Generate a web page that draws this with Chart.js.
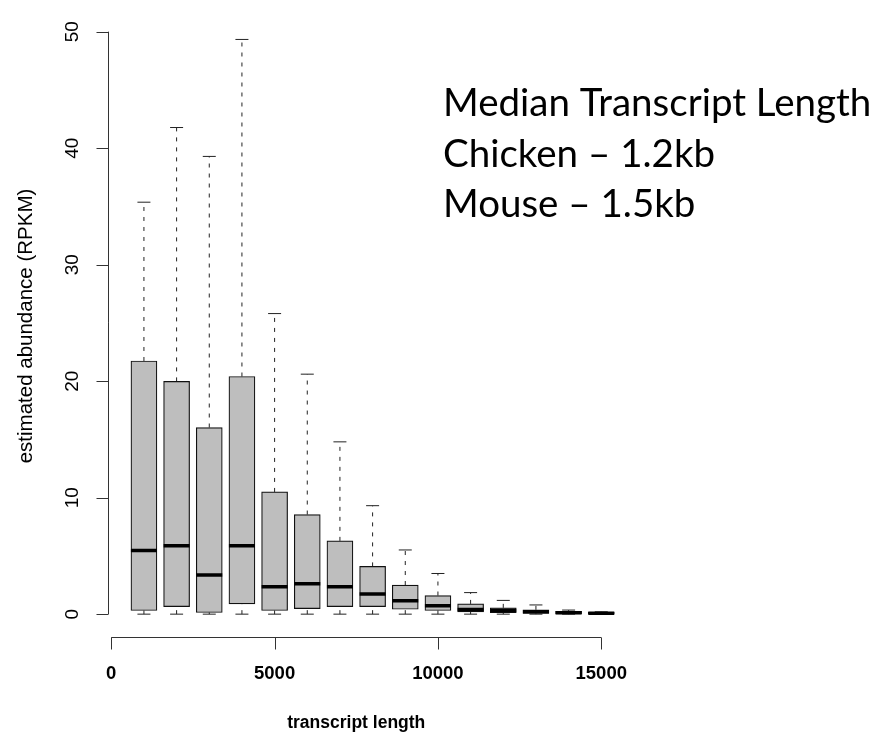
<!DOCTYPE html>
<html>
<head>
<meta charset="utf-8">
<script src="https://cdn.jsdelivr.net/npm/chart.js@4.4.1/dist/chart.umd.min.js"></script>
<style>
  html, body { margin: 0; padding: 0; background: #fff; }
  #chart { display: block; }
</style>
</head>
<body>
<canvas id="chart" width="886" height="734"></canvas>
<script>
// box positions (transcript length bins)
const lengths = [1000, 2000, 3000, 4000, 5000, 6000, 7000, 8000, 9000, 10000, 11000, 12000, 13000, 14000, 15000];
// box statistics, RPKM
const lowerWhisker = [0, 0, 0, 0, 0, 0, 0, 0, 0, 0, 0, 0, 0, 0, 0];
const q1 = [0.31, 0.65, 0.14, 0.88, 0.31, 0.48, 0.65, 0.65, 0.42, 0.31, 0.2, 0.12, 0.06, 0.03, 0.02];
const medians = [5.46, 5.88, 3.35, 5.88, 2.36, 2.61, 2.36, 1.72, 1.16, 0.73, 0.4, 0.31, 0.2, 0.12, 0.08];
const q3 = [21.73, 19.98, 16.02, 20.4, 10.49, 8.55, 6.29, 4.1, 2.5, 1.6, 0.88, 0.54, 0.37, 0.25, 0.15];
const upperWhisker = [35.36, 41.77, 39.29, 49.33, 25.8, 20.6, 14.79, 9.31, 5.51, 3.49, 1.85, 1.18, 0.79, 0.35, 0.2];

const xTicks = [0, 5000, 10000, 15000];
const yTicks = [0, 10, 20, 30, 40, 50];
const xTitle = 'transcript length';
const yTitle = 'estimated abundance (RPKM)';
const noteLines = ['Median Transcript Length', 'Chicken \u2013 1.2kb', 'Mouse \u2013 1.5kb'];

// whisker segments, split by gaps
var whiskerPts = [];
var capPts = [];
for (var i = 0; i < lengths.length; i++) {
  whiskerPts.push({ x: lengths[i], y: q3[i] }, { x: lengths[i], y: upperWhisker[i] }, { x: lengths[i], y: null });
  whiskerPts.push({ x: lengths[i], y: lowerWhisker[i] }, { x: lengths[i], y: q1[i] }, { x: lengths[i], y: null });
  capPts.push({ x: lengths[i], y: upperWhisker[i] }, { x: lengths[i], y: lowerWhisker[i] });
}

// R-style axes, titles and the note, drawn with the chart scales
const rAxes = {
  id: 'rAxes',
  afterDraw(chart) {
    const ctx = chart.ctx;
    const xs = chart.scales.x;
    const ys = chart.scales.y;
    const area = chart.chartArea;
    ctx.save();
    ctx.strokeStyle = '#333';
    ctx.lineWidth = 1;
    ctx.fillStyle = '#000';

    // y axis
    const ax = Math.round(area.left) + 0.5;
    ctx.beginPath();
    ctx.moveTo(ax, ys.getPixelForValue(yTicks[0]));
    ctx.lineTo(ax, ys.getPixelForValue(yTicks[yTicks.length - 1]));
    yTicks.forEach(v => {
      const py = Math.round(ys.getPixelForValue(v)) + 0.5;
      ctx.moveTo(ax - 12, py);
      ctx.lineTo(ax, py);
    });
    ctx.stroke();
    ctx.font = '19px "Liberation Sans", Arial, sans-serif';
    ctx.textAlign = 'center';
    ctx.textBaseline = 'middle';
    yTicks.forEach(v => {
      ctx.save();
      ctx.translate(73, ys.getPixelForValue(v));
      ctx.rotate(-Math.PI / 2);
      ctx.fillText(String(v), 0, 0);
      ctx.restore();
    });
    ctx.save();
    ctx.font = '20.5px "Liberation Sans", Arial, sans-serif';
    ctx.translate(26, 326);
    ctx.rotate(-Math.PI / 2);
    ctx.fillText(yTitle, 0, 0);
    ctx.restore();

    // x axis
    const ay = Math.round(area.bottom) + 0.5;
    ctx.beginPath();
    ctx.moveTo(xs.getPixelForValue(xTicks[0]), ay);
    ctx.lineTo(xs.getPixelForValue(xTicks[xTicks.length - 1]), ay);
    xTicks.forEach(v => {
      const px = Math.round(xs.getPixelForValue(v)) + 0.5;
      ctx.moveTo(px, ay);
      ctx.lineTo(px, ay + 12);
    });
    ctx.stroke();
    ctx.font = 'bold 18.5px "Liberation Sans", Arial, sans-serif';
    xTicks.forEach(v => {
      ctx.fillText(String(v), xs.getPixelForValue(v), 674);
    });
    ctx.font = 'bold 17.5px "Liberation Sans", Arial, sans-serif';
    ctx.fillText(xTitle, (xs.getPixelForValue(xTicks[0]) + xs.getPixelForValue(xTicks[xTicks.length - 1])) / 2, 723);

    // note
    ctx.font = '38.5px Lato, "Open Sans", sans-serif';
    ctx.textAlign = 'left';
    ctx.textBaseline = 'alphabetic';
    noteLines.forEach((t, k) => {
      ctx.fillText(t, 443, 116 + k * 50.5);
    });
    ctx.restore();
  }
};

var ctx = document.getElementById('chart').getContext('2d');
var chart = new Chart(ctx, {
  type: 'bar',
  data: {
    datasets: [
      {
        type: 'line',
        label: 'median',
        data: lengths.map((x, i) => ({ x: x, y: medians[i] })),
        showLine: false,
        pointStyle: 'line',
        pointRadius: 13,
        pointBorderWidth: 3.5,
        pointBorderColor: '#000',
        order: 0
      },
      {
        label: 'box',
        data: lengths.map((x, i) => ({ x: x, y: [q1[i], q3[i]] })),
        backgroundColor: '#bebebe',
        borderColor: '#111',
        borderWidth: 1.2,
        borderSkipped: false,
        barThickness: 26,
        order: 1
      },
      {
        type: 'line',
        label: 'cap',
        data: capPts,
        showLine: false,
        pointStyle: 'line',
        pointRadius: 6.5,
        pointBorderWidth: 1,
        pointBorderColor: '#222',
        order: 2
      },
      {
        type: 'line',
        label: 'whisker',
        data: whiskerPts,
        borderColor: '#222',
        borderWidth: 1,
        borderDash: [4, 6],
        pointRadius: 0,
        spanGaps: false,
        order: 3
      }
    ]
  },
  options: {
    responsive: false,
    animation: false,
    events: [],
    layout: { padding: { left: 108, top: 5.3, bottom: 96.9, right: 248.8 } },
    plugins: { legend: { display: false }, tooltip: { enabled: false } },
    scales: {
      x: { type: 'linear', min: -100, max: 16100, offset: false, display: false },
      y: { type: 'linear', min: -1.97, max: 51.3, display: false }
    }
  },
  plugins: [rAxes]
});
</script>
</body>
</html>
